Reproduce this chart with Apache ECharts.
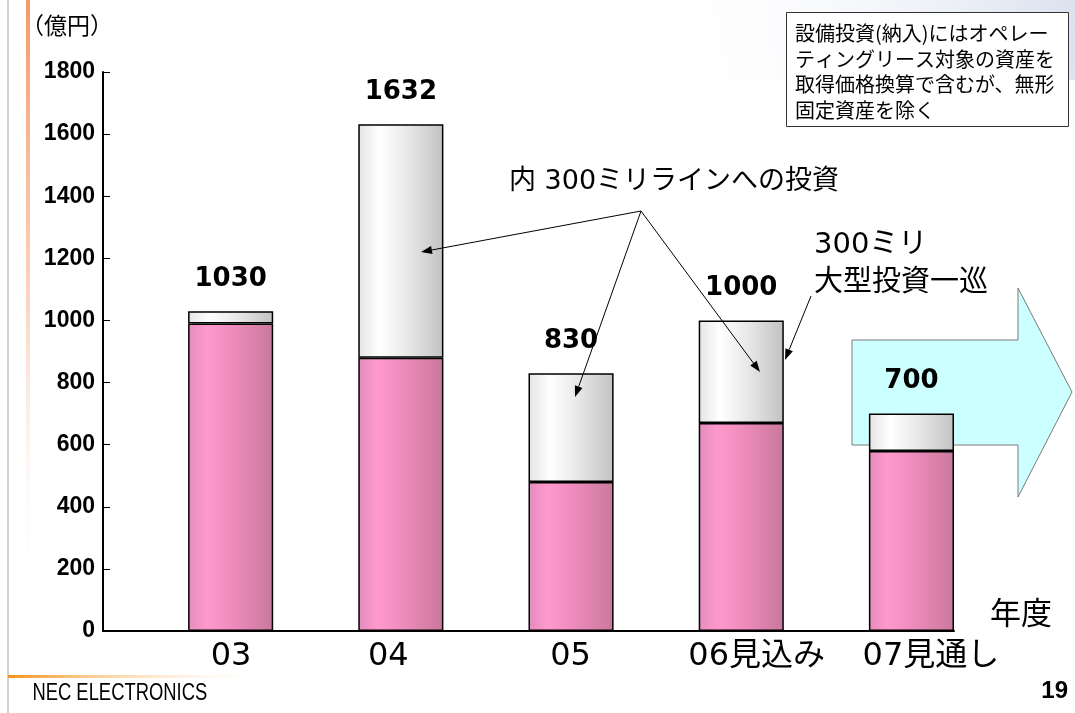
<!DOCTYPE html>
<html><head><meta charset="utf-8">
<script src="https://cdn.jsdelivr.net/npm/echarts@6/dist/echarts.min.js"></script>
<style>html,body{margin:0;padding:0;background:#fff}#c{width:1075px;height:713px}</style>
</head><body><div id="c"></div>
<script>
const categories = ['03', '04', '05', '06見込み', '07見通し'];
const baseInvest = [990, 880, 480, 670, 580];
const line300Invest = [40, 752, 350, 330, 120];
const totals = [1030, 1632, 830, 1000, 700];
const yTicks = { min: 0, max: 1800, interval: 200 };
const labelPad = [86, 60, 84, 116, 124];

const JP = '"Noto Sans CJK JP","Noto Sans",sans-serif';
const DJP = '"DejaVu Sans","Noto Sans CJK JP",sans-serif';
const chart = echarts.init(document.getElementById('c'), null, { renderer: 'canvas' });

const pinkGrad = new echarts.graphic.LinearGradient(0, 0, 1, 0, [
  { offset: 0, color: '#e48cbd' }, { offset: 0.22, color: '#ff99cc' },
  { offset: 0.55, color: '#ec8bbb' }, { offset: 1, color: '#c9789c' }]);
const whiteGrad = new echarts.graphic.LinearGradient(0, 0, 1, 0, [
  { offset: 0, color: '#e4e4e4' }, { offset: 0.25, color: '#ffffff' },
  { offset: 0.6, color: '#e6e6e6' }, { offset: 1, color: '#c2c2c2' }]);

function arrow(x1, y1, x2, y2) {
  const a = Math.atan2(y2 - y1, x2 - x1), L = 11, W = 4;
  const bx = x2 - L * Math.cos(a), by = y2 - L * Math.sin(a);
  const px = -Math.sin(a) * W, py = Math.cos(a) * W;
  return [
    { type: 'line', z: 20, shape: { x1, y1, x2: bx, y2: by }, style: { stroke: '#000', lineWidth: 1 } },
    { type: 'polygon', z: 20, shape: { points: [[x2, y2], [bx + px, by + py], [bx - px, by - py]] }, style: { fill: '#000' } }
  ];
}

const graphics = [
  { type: 'rect', z: -10, shape: { x: 0, y: 0, width: 1075, height: 80 },
    style: { fill: new echarts.graphic.LinearGradient(1, 0, 0.6, 1, [
      { offset: 0, color: 'rgba(195,205,228,0.6)' }, { offset: 1, color: 'rgba(255,255,255,0)' }]) } },
  { type: 'rect', z: -5, shape: { x: 7, y: 0, width: 2, height: 713 }, style: { fill: '#d0d0d0' } },
  { type: 'rect', z: -5, shape: { x: 26, y: 0, width: 4, height: 600 },
    style: { fill: new echarts.graphic.LinearGradient(0, 0, 0, 1, [
      { offset: 0, color: '#f59a6a' }, { offset: 0.5, color: 'rgba(246,170,130,0.5)' }, { offset: 1, color: 'rgba(255,255,255,0)' }]) } },
  { type: 'rect', z: -5, shape: { x: 8, y: 675, width: 270, height: 3 },
    style: { fill: new echarts.graphic.LinearGradient(0, 0, 1, 0, [
      { offset: 0, color: '#f7941d' }, { offset: 1, color: 'rgba(255,255,255,0)' }]) } },
  { type: 'text', z: 10, x: 27, y: 694, scaleX: 0.8, originX: 27, originY: 694,
    style: { text: 'NEC ELECTRONICS', font: '23px "Liberation Sans",sans-serif', fill: '#000', verticalAlign: 'middle' } },
  { type: 'text', z: 10, x: 1068, y: 691, style: { text: '19', font: 'bold 24px "Liberation Sans",sans-serif', fill: '#000', align: 'right', verticalAlign: 'middle' } },
  { type: 'text', z: 10, x: 21, y: 25, style: { text: '（億円）', font: '23px ' + JP, fill: '#000', verticalAlign: 'middle' } },
  { type: 'text', z: 10, x: 990, y: 612, style: { text: '年度', font: '31px ' + JP, fill: '#000', verticalAlign: 'middle' } },
  { type: 'rect', z: 10, shape: { x: 786.5, y: 12.5, width: 282, height: 114 }, style: { fill: '#fff', stroke: '#333', lineWidth: 1 } },
  { type: 'text', z: 11, x: 795, y: 21, style: { text: '設備投資(納入)にはオペレー\nティングリース対象の資産を\n取得価格換算で含むが、無形\n固定資産を除く', font: '20px ' + JP, lineHeight: 25.5, fill: '#000' } },
  { type: 'polygon', z: 0, shape: { points: [[852, 340], [1018, 340], [1018, 288], [1072, 392], [1018, 497], [1018, 445], [852, 445]] },
    style: { fill: '#ccffff', stroke: '#7a7a7a', lineWidth: 1 } },
  { type: 'text', z: 20, x: 509, y: 182, style: { text: '内 300ミリラインへの投資', font: '27px ' + DJP, fill: '#000', verticalAlign: 'middle' } },
  { type: 'text', z: 20, x: 814, y: 264, style: { text: '300ミリ\n大型投資一巡', font: '29px ' + DJP, lineHeight: 38, fill: '#000', verticalAlign: 'middle' } }
]
.concat(arrow(641, 211, 421, 252))
.concat(arrow(641, 211, 575, 397))
.concat(arrow(641, 211, 760, 372))
.concat(arrow(811, 296, 785, 360));

chart.setOption({
  animation: false,
  backgroundColor: '#fff',
  grid: { left: 103, right: 121, top: 72, bottom: 82 },
  xAxis: {
    type: 'category',
    data: categories.map((c, i) => ({ value: c, textStyle: { padding: [0, 0, 0, labelPad[i]] } })),
    axisLine: { lineStyle: { color: '#000', width: 2 } },
    axisTick: { show: false },
    axisLabel: { fontSize: 32, fontFamily: DJP, color: '#000', margin: 10, interval: 0 }
  },
  yAxis: {
    type: 'value', min: yTicks.min, max: yTicks.max, interval: yTicks.interval,
    axisLine: { show: true, lineStyle: { color: '#000', width: 2 } },
    axisTick: { show: true, inside: true, length: 7, lineStyle: { color: '#000', width: 1 } },
    splitLine: { show: false },
    axisLabel: { fontSize: 23, fontWeight: 'bold', fontFamily: '"Liberation Sans",Arial,sans-serif', color: '#000', margin: 8,
      formatter: v => String(v) }
  },
  graphic: graphics,
  series: [
    { type: 'bar', stack: 'spacer', data: categories.map(() => 0), barGap: '0%', barCategoryGap: '0%',
      itemStyle: { color: 'rgba(0,0,0,0)', borderWidth: 0 }, silent: true },
    { type: 'bar', stack: 'main', data: baseInvest, barGap: '0%', barCategoryGap: '0%', z: 5,
      itemStyle: { color: pinkGrad, borderColor: '#000', borderWidth: 1.5 } },
    { type: 'bar', stack: 'main', data: line300Invest, z: 5,
      itemStyle: { color: whiteGrad, borderColor: '#000', borderWidth: 1.5 },
      label: { show: true, position: 'top', distance: 19, formatter: p => String(totals[p.dataIndex]),
        fontSize: 26, fontWeight: 'bold', fontFamily: '"DejaVu Sans",sans-serif', color: '#000' } }
  ]
});
</script></body></html>
